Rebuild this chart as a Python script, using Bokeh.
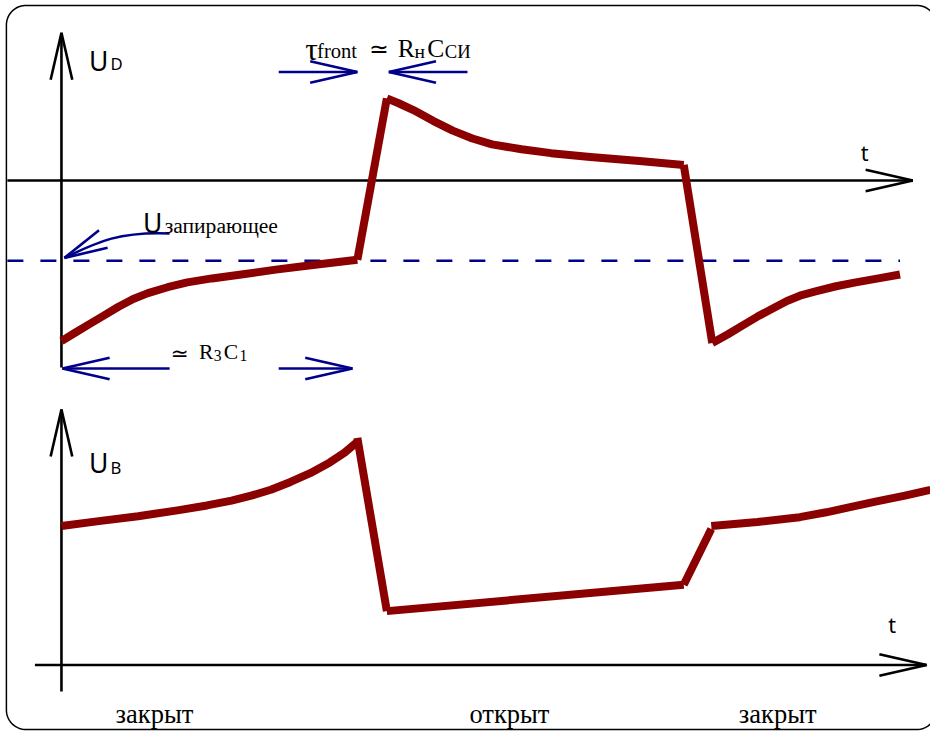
import numpy as np
from bokeh.plotting import figure
from bokeh.models import Range1d
from bokeh.core.properties import value
from bokeh.embed import file_html
from bokeh.resources import INLINE

# ---- schematic data (x = time position, y = screen level) ----
# U_D trace segments
ud_rise_x = [62, 75, 90, 105, 120, 135, 150, 170, 190, 215, 245, 280, 320, 363]
ud_rise_y = [348, 340, 331, 322, 313, 305, 299, 293, 288, 284, 280, 275, 270, 265]
ud_jump_x = [363, 393]
ud_jump_y = [265, 100]
ud_decay_x = [393, 405, 420, 440, 460, 480, 500, 530, 560, 600, 650, 695]
ud_decay_y = [100, 105, 112, 123, 133, 141, 147, 152, 156, 160, 164, 168]
ud_drop_x = [695, 724]
ud_drop_y = [168, 350]
ud_rec_x = [724, 740, 755, 770, 785, 800, 815, 830, 850, 870, 893, 915]
ud_rec_y = [350, 341, 332, 323, 315, 307, 301, 297, 292, 288, 284, 280]

# U_B trace segments
ub_rise_x = [62, 100, 140, 180, 210, 235, 255, 275, 295, 315, 335, 350, 363]
ub_rise_y = [537, 532, 527, 521, 516, 511, 506, 500, 492, 483, 472, 462, 451]
ub_drop_x = [363, 393]
ub_drop_y = [447, 624]
ub_open_x = [393, 695]
ub_open_y = [624, 597]
ub_step_x = [695, 723]
ub_step_y = [597, 540]
ub_tail_x = [723, 770, 813, 840, 863, 890, 920, 946]
ub_tail_y = [537, 533, 528, 523, 518, 512, 506, 500]

u_lock_level = 266          # dashed level U_запирающее
state_labels = ["закрыт", "открыт", "закрыт"]
state_x = [117, 477, 751]

RED = "#8b0000"
BLUE = "#00008b"

p = figure(width=930, height=731, x_range=Range1d(0, 946), y_range=Range1d(747, 0),
           output_backend="svg", toolbar_location=None, min_border=0,
           x_axis_location=None, y_axis_location=None)
p.grid.visible = False
p.outline_line_color = None
p.background_fill_color = "white"
p.border_fill_color = "white"

# rounded frame
L, T, R, B, rad = 6, 5, 952, 745, 20
th = np.linspace(0, np.pi / 2, 20)
fx, fy = [], []
fx += list(L + rad - rad * np.cos(th)); fy += list(T + rad - rad * np.sin(th))
fx += list(R - rad + rad * np.sin(th)); fy += list(T + rad - rad * np.cos(th))
fx += list(R - rad + rad * np.cos(th)); fy += list(B - rad + rad * np.sin(th))
fx += list(L + rad - rad * np.sin(th)); fy += list(B - rad + rad * np.cos(th))
fx.append(fx[0]); fy.append(fy[0])
p.line(fx, fy, line_color="black", line_width=1.5)


def head(tx, ty, dx, dy, color, length=48, half=11, width=2.6):
    n = np.hypot(dx, dy)
    ux, uy = dx / n, dy / n
    bx, by = tx - ux * length, ty - uy * length
    px, py = -uy, ux
    p.multi_line([[bx + px * half, tx], [bx - px * half, tx]],
                 [[by + py * half, ty], [by - py * half, ty]],
                 line_color=color, line_width=width)


# axes
p.line([62, 62], [375, 33], line_color="black", line_width=2.6)
head(62, 33, 0, -1, "black")
p.line([7, 928], [184, 184], line_color="black", line_width=2.6)
head(928, 184, 1, 0, "black")
p.line([62, 62], [706, 418], line_color="black", line_width=2.6)
head(62, 418, 0, -1, "black")
p.line([35, 942], [679, 679], line_color="black", line_width=2.6)
head(942, 679, 1, 0, "black")

# dashed lock level
p.line([7, 915], [u_lock_level, u_lock_level], line_color=BLUE, line_width=2.5,
       line_dash="16 17")

# blue arrows: tau_front
p.line([283, 363], [73, 73], line_color=BLUE, line_width=2.5)
head(363, 73, 1, 0, BLUE)
p.line([475, 395], [73, 73], line_color=BLUE, line_width=2.5)
head(395, 73, -1, 0, BLUE)
# blue arrows: R3C1
p.line([172, 63], [376, 376], line_color=BLUE, line_width=2.5)
head(63, 376, -1, 0, BLUE)
p.line([283, 358], [376, 376], line_color=BLUE, line_width=2.5)
head(358, 376, 1, 0, BLUE)
# curved arrow to lock level
p.bezier(x0=[172], y0=[238], x1=[65], y1=[263], cx0=[122], cy0=[236],
         cx1=[100], cy1=[246], line_color=BLUE, line_width=2.5)
head(65, 263, -35, 17, BLUE, length=44, half=10)

# red traces
for xs, ys in [(ud_rise_x, ud_rise_y), (ud_jump_x, ud_jump_y), (ud_decay_x, ud_decay_y),
               (ud_drop_x, ud_drop_y), (ud_rec_x, ud_rec_y),
               (ub_rise_x, ub_rise_y), (ub_drop_x, ub_drop_y), (ub_open_x, ub_open_y),
               (ub_step_x, ub_step_y), (ub_tail_x, ub_tail_y)]:
    p.line(xs, ys, line_color=RED, line_width=8, line_cap="butt", line_join="round")


def txt(x, y, s, font, size, color="black"):
    p.text(x=[x], y=[y], text=[s], text_font=value(font),
           text_font_size=f"{size * 0.98:.1f}px",
           text_baseline="alphabetic", text_align="left", text_color=color)


SANS = "Noto Sans"
SERIF = "Liberation Serif"

txt(90, 62, "U", SANS, 27)
txt(112, 64, "D", SANS, 17)
txt(90, 473, "U", SANS, 27)
txt(112, 477, "B", SANS, 17)
txt(875, 155, "t", SANS, 22)
txt(903, 638, "t", SANS, 22)

# tau_front ≃ R_н C_СИ
txt(310, 50, "τ", SERIF, 32)
txt(322, 52, "front", SERIF, 21)
txt(375, 50, "≃", "DejaVu Sans", 24)
txt(404, 49, "R", SERIF, 26)
txt(421, 52, "н", SERIF, 20)
txt(434, 49, "C", SERIF, 26)
txt(452, 52, "СИ", SERIF, 19)

# ≃ R3 C1
txt(173, 361, "≃", "DejaVu Sans", 22)
txt(202, 359, "R", SERIF, 22)
txt(217, 363, "3", SERIF, 16)
txt(227, 359, "C", SERIF, 22)
txt(243, 363, "1", SERIF, 16)

# U_запирающее
txt(145, 227, "U", SANS, 27)
txt(167, 230, "запирающее", SERIF, 22)

for lab, x in zip(state_labels, state_x):
    txt(x, 729, lab, SERIF, 27)

open("out.html", "w").write(file_html(p, INLINE))
